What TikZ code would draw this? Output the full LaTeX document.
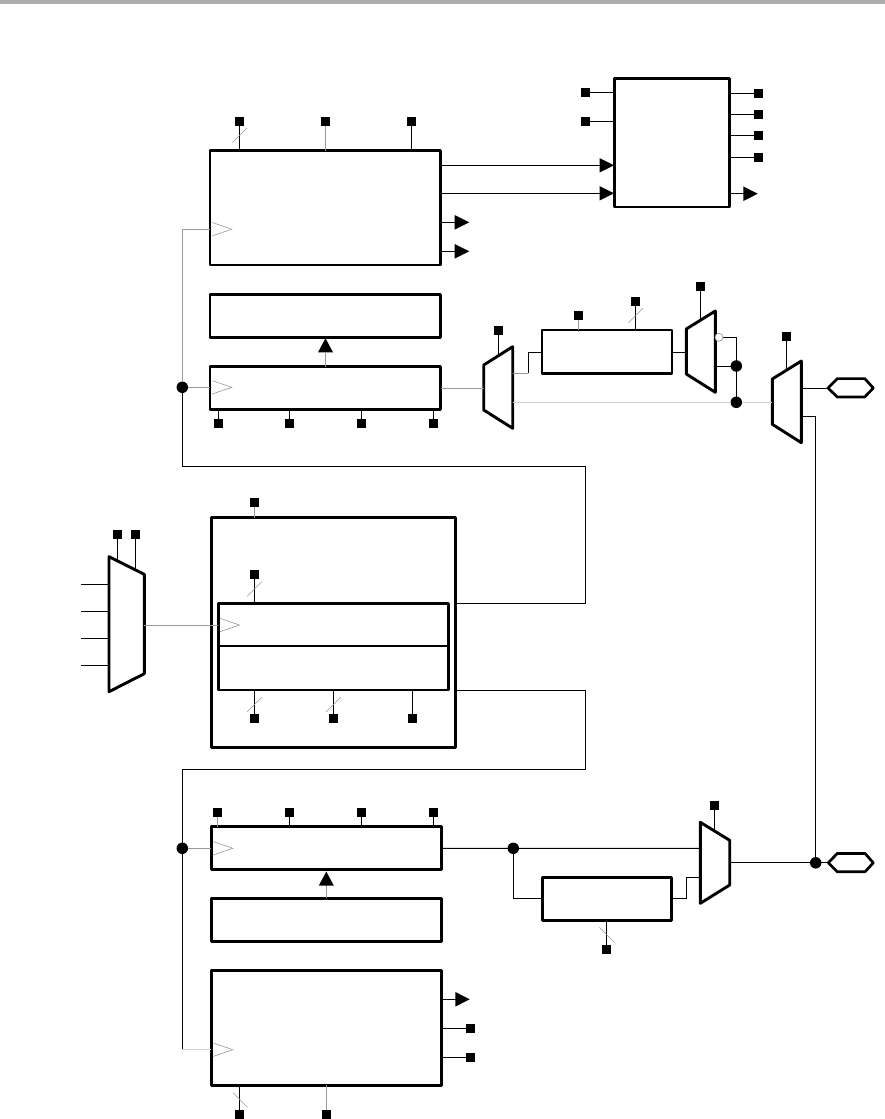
\documentclass[tikz,border=0pt]{standalone}
\usetikzlibrary{calc}
\definecolor{gw}{gray}{0.6}
\definecolor{lw}{gray}{0.82}
\definecolor{bar}{gray}{0.68}
\tikzset{
  x=1pt,y=-1pt,
  boxn/.style={draw=black,line width=2.9pt,line join=round,rectangle,inner sep=0pt,outer sep=0pt},
  pad/.style={fill=black,draw=none,rectangle,minimum size=9pt,inner sep=0pt,outer sep=0pt},
  dot/.style={fill=black,draw=none,circle,minimum size=11.5pt,inner sep=0pt,outer sep=0pt},
  wire/.style={draw=black,line width=0.95pt},
  gwire/.style={draw=gw,line width=1pt},
  lwire/.style={draw=lw,line width=1pt},
  slash/.style={draw=gw,line width=0.6pt},
  clk/.style={draw=gw,line width=0.6pt},
  muxs/.style={draw=black,line width=2.9pt,line join=round},
  tip/.style={fill=black,draw=none},
  hex/.style={draw=black,line width=2.7pt,line join=round},
  bub/.style={circle,draw=gw,fill=white,line width=0.7pt,minimum size=8pt,inner sep=0pt,outer sep=0pt},
}
% \bx{name}{x1}{y1}{x2}{y2}
\newcommand{\bx}[5]{\pgfmathsetmacro{\bxw}{#4-#2}\pgfmathsetmacro{\bxh}{#5-#3}%
  \node[boxn,minimum width=\bxw pt,minimum height=\bxh pt] (#1) at ({(#2+#4)/2},{(#3+#5)/2}) {};}
% \mux{name}{x1}{x2}{y1 top-left}{y2 top-right}{y3 bottom-right}{y4 bottom-left}
\newcommand{\mux}[7]{\draw[muxs] (#2,#4) coordinate (#1a) -- (#3,#5) coordinate (#1b) -- (#3,#6) coordinate (#1c) -- (#2,#7) coordinate (#1d) -- cycle;}
% triangle tips: \tr{x base}{y} right-pointing, \tu{x}{y base} up-pointing
\newcommand{\tr}[2]{\fill[tip] (#1,#2-7.3) -- (#1+14.5,#2) -- (#1,#2+7.3) -- cycle;}
\newcommand{\tu}[2]{\fill[tip] (#1-7.5,#2) -- (#1,#2-14) -- (#1+7.5,#2) -- cycle;}
\newcommand{\cl}[2]{\draw[clk] (#1,#2-6.7) -- (#1+19.5,#2) -- (#1,#2+6.7);}
\newcommand{\sls}[2]{\draw[slash] (#1-7.3,#2+7.3) -- (#1+7.3,#2-7.3);}
\newcommand{\slb}[2]{\draw[slash] (#1-7.3,#2-7.3) -- (#1+7.3,#2+7.3);}
\begin{document}
\begin{tikzpicture}
\useasboundingbox (0,0) rectangle (885,1119);
\fill[white] (0,0) rectangle (885,1119);
\fill[bar] (0,0) rectangle (885,4);

% ---- boxes (nodes first so connectors can name them)
\bx{A}{210}{150.5}{440.7}{265}
\bx{A2}{210}{294.5}{440.7}{337.5}
\bx{B}{210}{366.5}{440.7}{409.5}
\bx{D}{614.3}{78.7}{729.3}{207}
\bx{E}{542}{330}{672}{373.7}
\bx{C}{211.7}{517.7}{455.7}{747.3}
\bx{J}{218.3}{603.3}{448.7}{646}
\bx{K}{218.3}{646}{448.7}{690}
\bx{F}{211.3}{826.7}{441.7}{869.9}
\bx{H}{211.3}{898.3}{441.7}{941.7}
\bx{I}{211.3}{970.3}{441.7}{1085.3}
\bx{G}{542.3}{877.3}{671.7}{920.3}

% ---- multiplexers
\mux{ma}{483.7}{512.7}{365}{346.7}{428.3}{410}
\mux{mb}{686.3}{715.3}{329}{311}{392.3}{374}
\mux{mc}{772.3}{801.3}{379}{361}{442.7}{424.3}
\mux{md}{700.3}{729.7}{822.3}{840.3}{885}{903.3}
\mux{me}{109}{144.3}{556.7}{574.3}{673.7}{691.7}

% ---- terminals
\draw[hex] (828,388) coordinate (ha) -- (837.3,378.6) -- (864.7,378.6) -- (873.3,388) -- (864.7,397) -- (837.3,397) -- cycle;
\draw[hex] (828.3,862.8) coordinate (hb) -- (837.3,853.4) -- (865,853.4) -- (873.3,862.8) -- (865,871.8) -- (837.3,871.8) -- cycle;

% ---- pads
\foreach \n/\x/\y in {
  p1/239.7/121, p2/325.5/121, p3/411.6/121,
  p4/218/423.3, p5/289.8/423.3, p6/361.5/423.3, p7/433.3/423.3,
  q1/585.3/92.8, q2/585.3/121.3, q3/758/93.3, q4/758/114.3, q5/758/135.5, q6/758/157.3,
  r1/498.7/330.3, r2/578.4/315.3, r3/635.7/301.3, r4/700.3/286.3, r5/786.7/336.3,
  s1/117.6/534.3, s2/135.6/534.3,
  c1/254.3/502.3, c2/254.3/574.3, c3/254.3/718.3, c4/333.3/718.3, c5/412.8/718.3,
  f1/217.7/812.3, f2/289.8/812.3, f3/361.5/812.3, f4/433.3/812.3,
  g1/714.6/805.3, g2/606.8/949.3,
  i1/470.3/1028.7, i2/470.3/1057.3, i3/239.8/1114.3, i4/326.3/1114.3}
  {\node[pad] (\n) at (\x,\y) {};}

% ---- junctions
\node[dot] (j1) at (182.3,387.3) {};
\node[dot] (j2) at (736.3,366) {};
\node[dot] (j3) at (736.3,402.3) {};
\node[dot] (j4) at (182.3,848.3) {};
\node[dot] (j5) at (513.3,848.3) {};
\node[dot] (j6) at (815.7,862.8) {};

% ---- named route corners
\coordinate (aclk) at (A.west |- 0,229);
\coordinate (iclk) at (I.west |- 0,1049.7);
\coordinate (rt1) at (585,466);
\coordinate (rt2) at (585,603.3);
\coordinate (rt3) at (585,690.7);
\coordinate (rt4) at (585,769);

% ---- connectors: pads to boxes
\draw[wire] (p1) -- (p1 |- A.north);
\draw[gwire] (p2) -- (p2 |- A.north);
\draw[wire] (p3) -- (p3 |- A.north);
\foreach \p in {p4,p5,p6,p7} {\draw[wire] (\p) -- (\p |- B.south);}
\draw[wire] (q1) -- (q1 -| D.west);
\draw[wire] (q2) -- (q2 -| D.west);
\foreach \p in {q3,q4,q5,q6} {\draw[wire] (\p) -- (\p -| D.east);}
\draw[gwire] (r2) -- (r2 |- E.north);
\draw[wire] (r3) -- (r3 |- E.north);
\draw[gwire] (c1) -- (c1 |- C.north);
\draw[wire] (c2) -- (c2 |- J.north);
\draw[wire] (c3) -- (c3 |- K.south);
\draw[wire] (c4) -- (c4 |- K.south);
\draw[wire] (c5) -- (c5 |- K.south);
\draw[gwire] (f1) -- (f1 |- F.north);
\foreach \p in {f2,f3,f4} {\draw[wire] (\p) -- (\p |- F.north);}
\draw[wire] (g2) -- (g2 |- G.south);
\draw[wire] (i1) -- (i1 -| I.east);
\draw[wire] (i2) -- (i2 -| I.east);
\draw[wire] (i3) -- (i3 |- I.south);
\draw[gwire] (i4) -- (i4 |- I.south);

% ---- connectors: pads to multiplexers
\draw[wire] (r1) -- ++(0,25);
\draw[wire] (r4) -- ++(0,34);
\draw[wire] (r5) -- ++(0,33);
\draw[wire] (g1) -- ++(0,26);
\draw[wire] (s1) -- ++(0,27);
\draw[wire] (s2) -- ++(0,36);

% ---- multiplexer inputs on the left
\foreach \y in {584.3,611.3,638.3,665.3} {\draw[wire] (81.3,\y) -- (109,\y);}

% ---- clock nets
\draw[gwire] (j1) -- (j1 |- aclk) -- (aclk);
\draw[gwire] (j1) -- (j1 -| B.west);
\draw[wire] (j1) |- (rt1) -- (rt2) -- (rt2 -| C.east);
\draw[wire] (rt3 -| C.east) -- (rt3) -- (rt4) -- (rt4 -| j4) -- (j4);
\draw[gwire] (j4) -- (j4 -| F.west);
\draw[wire] (j4) -- (j4 |- iclk);
\draw[lwire] (j4 |- iclk) -- (iclk);
\draw[gwire] (144.3,625) -- (218.3,625);

% ---- data paths
\draw[wire] (A.east |- 0,165.3) -- (D.west |- 0,165.3);
\draw[wire] (A.east |- 0,193.3) -- (D.west |- 0,193.3);
\draw[wire] (A.east |- 0,222.3) -- (456,222.3);
\draw[wire] (A.east |- 0,251.3) -- (456,251.3);
\draw[wire] (D.east |- 0,193.7) -- (744,193.7);
\draw[gwire] (B.north) -- ++(0,-14);
\draw[gwire] (B.east) -- (483.7,388);
\draw[gwire] (512.7,373.3) -- (528.3,373.3);
\draw[wire] (528.3,373.3) -- (528.3,352.3) -- (E.west |- 0,352.3);
\draw[wire] (E.east |- 0,352.3) -- (686.3,352.3);
\draw[wire] (715.3,366) -- (j2);
\draw[wire] (723,337.3) -| (j3);
\draw[lwire] (512.7,402.3) -- (j3) -- (772.3,402.3);
\draw[wire] (801.3,388) -- (ha);
\draw[wire] (801.3,416) -- (815.7,416) -- (j6);
\draw[wire] (F.east) -- (F.east -| j5) -- (700.3,848.3);
\draw[wire] (j5) |- (G.west);
\draw[wire] (G.east) -- (686.3,898.8) -- (686.3,877.3) -- (700.3,877.3);
\draw[wire] (729.7,862.8) -- (j6) -- (hb);
\draw[gwire] (H.north) -- ++(0,-14);
\draw[wire] (I.east |- 0,999.3) -- (456,999.3);

% ---- arrow tips
\tr{454.7}{222.3} \tr{454.7}{251.3}
\tr{599.5}{165.3} \tr{599.5}{193.3}
\tr{743.3}{193.7} \tr{455.3}{999.3}
\tu{325.5}{352.3} \tu{326.3}{885.6}

% ---- clock wedges
\cl{212.3}{229.2} \cl{212.3}{387.3} \cl{220}{625} \cl{213.3}{848.3} \cl{213.3}{1049.7}

% ---- bus slashes
\sls{239.7}{135.3} \sls{635.7}{315.5} \sls{254.5}{589}
\sls{254.5}{704.5} \sls{333.5}{704.5}
\slb{606.7}{934.7} \slb{240.2}{1100}

% ---- inverting bubble
\node[bub] (inv) at (719,337.3) {};
\end{tikzpicture}
\end{document}
